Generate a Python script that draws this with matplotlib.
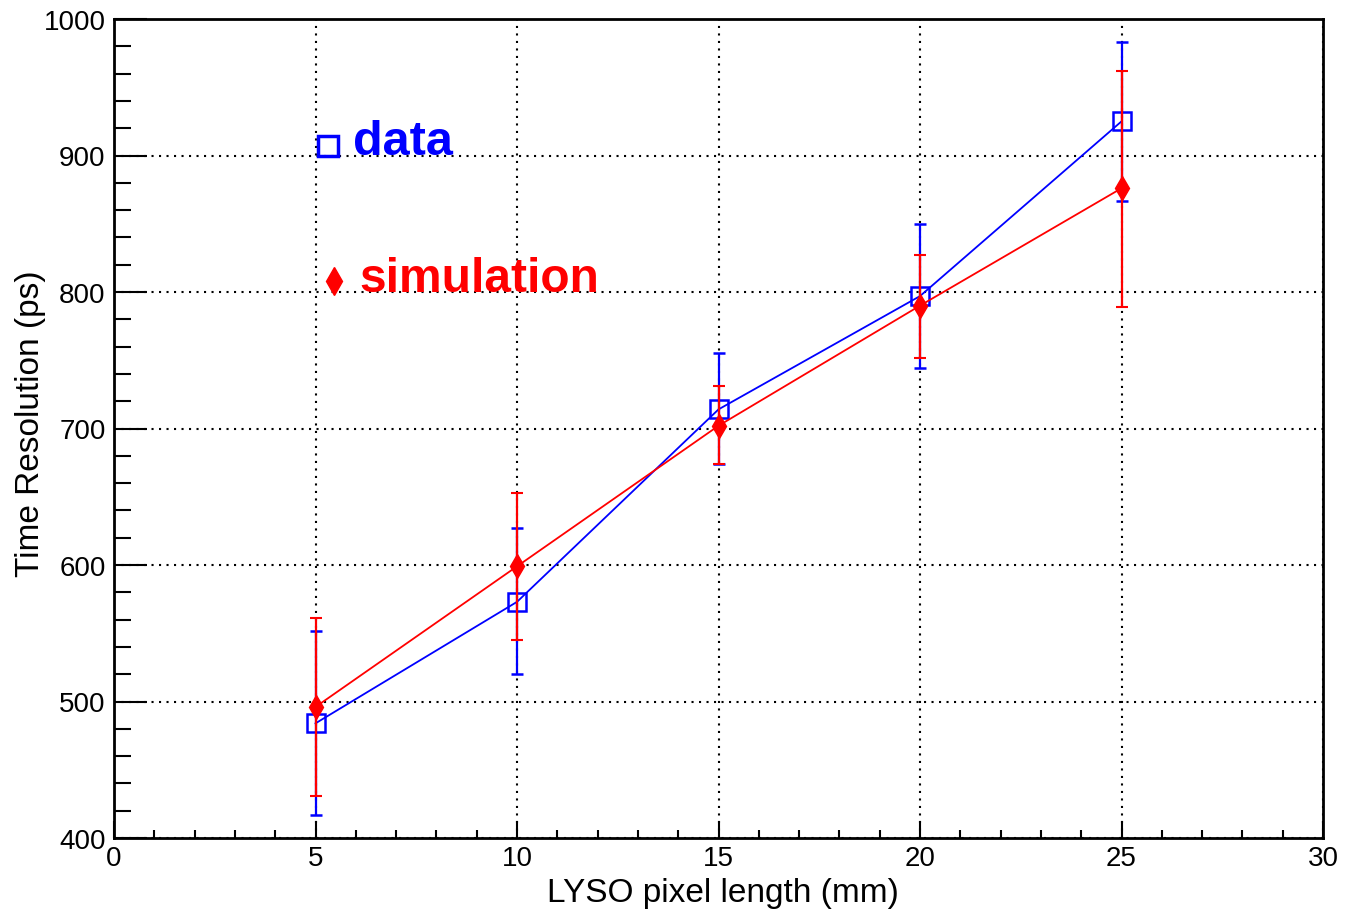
import matplotlib
matplotlib.use("Agg")
import matplotlib.pyplot as plt
from matplotlib.ticker import MultipleLocator

plt.rcParams['font.family'] = ['Liberation Sans', 'DejaVu Sans']

length_mm = [5, 10, 15, 20, 25]
data_res = [484, 573, 714, 797, 925]
data_err_lo = [67, 53, 40, 53, 58]
data_err_hi = [68, 54, 41, 53, 58]
sim_res = [496, 599, 702, 790, 876]
sim_err_lo = [65, 54, 28, 38, 87]
sim_err_hi = [65, 54, 29, 37, 86]

fig = plt.figure(figsize=(13.59, 9.2), dpi=100)
ax = fig.add_axes([114/1359, 1-839/920, (1323-114)/1359, (839-20)/920])

ax.errorbar(length_mm, data_res, yerr=[data_err_lo, data_err_hi], color='#0000ff',
            lw=1.3, marker='s', ms=13, mfc='none', mec='#0000ff', mew=1.8,
            ecolor='#0000ff', elinewidth=1.6, capsize=4, capthick=1.5, zorder=3)
ax.errorbar(length_mm, sim_res, yerr=[sim_err_lo, sim_err_hi], color='#ff0000',
            lw=1.3, marker='d', ms=12, mfc='#ff0000', mec='#ff0000',
            ecolor='#ff0000', elinewidth=1.6, capsize=4, capthick=1.5, zorder=4)

ax.set_xlim(0, 30)
ax.set_ylim(400, 1000)
ax.xaxis.set_major_locator(MultipleLocator(5))
ax.xaxis.set_minor_locator(MultipleLocator(1))
ax.yaxis.set_major_locator(MultipleLocator(100))
ax.yaxis.set_minor_locator(MultipleLocator(20))
ax.tick_params(axis='x', which='major', direction='in', length=12, width=1.5, labelsize=20, pad=5)
ax.tick_params(axis='x', which='minor', direction='in', length=6, width=1.5)
ax.tick_params(axis='y', which='major', direction='in', length=24, width=1.5, labelsize=20, pad=6)
ax.tick_params(axis='y', which='minor', direction='in', length=12, width=1.5)
for s in ax.spines.values():
    s.set_linewidth(2)
ax.grid(True, which='major', color='black', linestyle=(0, (1, 2.6)), lw=1.5)
ax.set_axisbelow(True)

ax.set_xlabel('LYSO pixel length (mm)', fontsize=24, va='center')
ax.xaxis.set_label_coords(0.504, -0.066)
ax.set_ylabel('Time Resolution (ps)', fontsize=24, va='center')
ax.yaxis.set_label_coords(-0.069, 0.507)

ax.plot([5.3], [907], marker='s', ms=14, mfc='none', mec='#0000ff', mew=2.5, ls='none', zorder=5)
ax.text(5.93, 910, 'data', color='#0000ff', fontsize=35, fontweight='bold', va='center', ha='left')
ax.plot([5.45], [808], marker='d', ms=14, mfc='#ff0000', mec='#ff0000', ls='none', zorder=5)
ax.text(6.08, 810, 'simulation', color='#ff0000', fontsize=34.5, fontweight='bold', va='center', ha='left')

fig.savefig('out.png', dpi=100)
